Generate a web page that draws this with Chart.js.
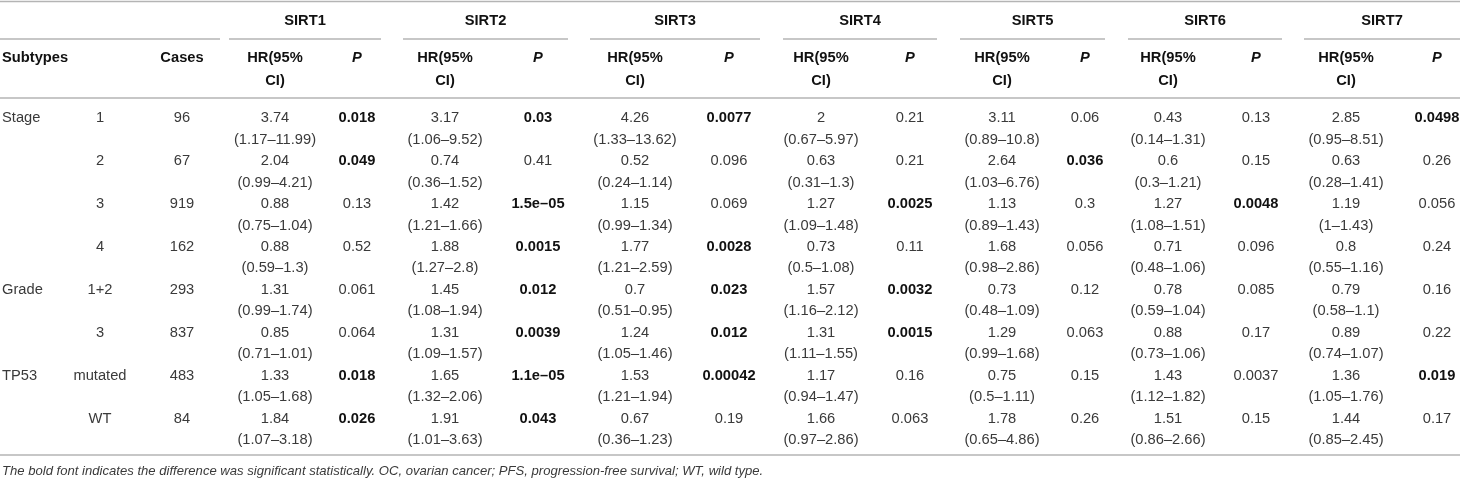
<!DOCTYPE html>
<html>
<head>
<meta charset="utf-8">
<script src="https://cdn.jsdelivr.net/npm/chart.js@4.4.1/dist/chart.umd.min.js"></script>
<style>
  html, body { margin: 0; padding: 0; background: #fff; }
  canvas { display: block; }
</style>
</head>
<body>
<canvas id="tablaSirt" width="1460" height="479"></canvas>
<script>
// ---- datos de la tabla ----
const genes = ['SIRT1', 'SIRT2', 'SIRT3', 'SIRT4', 'SIRT5', 'SIRT6', 'SIRT7'];
const groups = ['Stage', '', '', '', 'Grade', '', 'TP53', ''];
const subtypes = ['1', '2', '3', '4', '1+2', '3', 'mutated', 'WT'];
const cases = [96, 67, 919, 162, 293, 837, 483, 84];

const sirt1HR = [3.74, 2.04, 0.88, 0.88, 1.31, 0.85, 1.33, 1.84];
const sirt1CI = ['1.17–11.99', '0.99–4.21', '0.75–1.04', '0.59–1.3', '0.99–1.74', '0.71–1.01', '1.05–1.68', '1.07–3.18'];
const sirt1P = ['0.018', '0.049', '0.13', '0.52', '0.061', '0.064', '0.018', '0.026'];
const sirt1Sig = [1, 1, 0, 0, 0, 0, 1, 1];

const sirt2HR = [3.17, 0.74, 1.42, 1.88, 1.45, 1.31, 1.65, 1.91];
const sirt2CI = ['1.06–9.52', '0.36–1.52', '1.21–1.66', '1.27–2.8', '1.08–1.94', '1.09–1.57', '1.32–2.06', '1.01–3.63'];
const sirt2P = ['0.03', '0.41', '1.5e–05', '0.0015', '0.012', '0.0039', '1.1e–05', '0.043'];
const sirt2Sig = [1, 0, 1, 1, 1, 1, 1, 1];

const sirt3HR = [4.26, 0.52, 1.15, 1.77, 0.7, 1.24, 1.53, 0.67];
const sirt3CI = ['1.33–13.62', '0.24–1.14', '0.99–1.34', '1.21–2.59', '0.51–0.95', '1.05–1.46', '1.21–1.94', '0.36–1.23'];
const sirt3P = ['0.0077', '0.096', '0.069', '0.0028', '0.023', '0.012', '0.00042', '0.19'];
const sirt3Sig = [1, 0, 0, 1, 1, 1, 1, 0];

const sirt4HR = [2, 0.63, 1.27, 0.73, 1.57, 1.31, 1.17, 1.66];
const sirt4CI = ['0.67–5.97', '0.31–1.3', '1.09–1.48', '0.5–1.08', '1.16–2.12', '1.11–1.55', '0.94–1.47', '0.97–2.86'];
const sirt4P = ['0.21', '0.21', '0.0025', '0.11', '0.0032', '0.0015', '0.16', '0.063'];
const sirt4Sig = [0, 0, 1, 0, 1, 1, 0, 0];

const sirt5HR = [3.11, 2.64, 1.13, 1.68, 0.73, 1.29, 0.75, 1.78];
const sirt5CI = ['0.89–10.8', '1.03–6.76', '0.89–1.43', '0.98–2.86', '0.48–1.09', '0.99–1.68', '0.5–1.11', '0.65–4.86'];
const sirt5P = ['0.06', '0.036', '0.3', '0.056', '0.12', '0.063', '0.15', '0.26'];
const sirt5Sig = [0, 1, 0, 0, 0, 0, 0, 0];

const sirt6HR = [0.43, 0.6, 1.27, 0.71, 0.78, 0.88, 1.43, 1.51];
const sirt6CI = ['0.14–1.31', '0.3–1.21', '1.08–1.51', '0.48–1.06', '0.59–1.04', '0.73–1.06', '1.12–1.82', '0.86–2.66'];
const sirt6P = ['0.13', '0.15', '0.0048', '0.096', '0.085', '0.17', '0.0037', '0.15'];
const sirt6Sig = [0, 0, 1, 0, 0, 0, 0, 0];

const sirt7HR = [2.85, 0.63, 1.19, 0.8, 0.79, 0.89, 1.36, 1.44];
const sirt7CI = ['0.95–8.51', '0.28–1.41', '1–1.43', '0.55–1.16', '0.58–1.1', '0.74–1.07', '1.05–1.76', '0.85–2.45'];
const sirt7P = ['0.0498', '0.26', '0.056', '0.24', '0.16', '0.22', '0.019', '0.17'];
const sirt7Sig = [1, 0, 0, 0, 0, 0, 1, 0];

const footnote = 'The bold font indicates the difference was significant statistically. OC, ovarian cancer; PFS, progression-free survival; WT, wild type.';

const hrCols = [sirt1HR, sirt2HR, sirt3HR, sirt4HR, sirt5HR, sirt6HR, sirt7HR];
const ciCols = [sirt1CI, sirt2CI, sirt3CI, sirt4CI, sirt5CI, sirt6CI, sirt7CI];
const pCols = [sirt1P, sirt2P, sirt3P, sirt4P, sirt5P, sirt6P, sirt7P];
const sigCols = [sirt1Sig, sirt2Sig, sirt3Sig, sirt4Sig, sirt5Sig, sirt6Sig, sirt7Sig];

// ---- maquetación (unidades de las escalas) ----
const W = 1460, H = 479;
const X_LABEL = 2, X_SUB = 100, X_CASES = 182;
const X_HR = [275, 445, 635, 821, 1002, 1168, 1346];
const X_P = [357, 538, 729, 910, 1085, 1256, 1437];
const GROUP_LINES = [[0, 220], [229, 381], [403, 568], [590, 760], [783, 937], [960, 1105], [1128, 1282], [1304, 1460]];
const Y_ROW0 = 117, ROW_H = 42.9, CI_DY = 21.5;
const Y_GENE = 20, Y_HEAD1 = 57, Y_HEAD2 = 80;
const Y_TOP = 1.5, Y_MID = 39, Y_HEAD_LINE = 98, Y_BOTTOM = 455, Y_NOTE = 470;

const FONT = "'Liberation Sans', Arial, Helvetica, sans-serif";
const SIZE = '14.7px ';
const TEXT = '#3a3a3a', BOLD = '#111', RULE = '#b4b4b4';

const rowY = i => Y_ROW0 + i * ROW_H;

function columna(x, textos, opts = {}) {
    return {
        data: textos.map((t, i) => ({ x: x, y: rowY(i) })),
        textos: textos.map(String),
        sub: opts.sub || null,
        sig: opts.sig || null,
        align: opts.align || 'center',
        pointRadius: 0,
        showLine: false
    };
}

const datasets = [
    columna(X_LABEL, groups, { align: 'left' }),
    columna(X_SUB, subtypes),
    columna(X_CASES, cases)
];
genes.forEach((g, k) => {
    datasets.push(columna(X_HR[k], hrCols[k], { sub: ciCols[k].map(c => '(' + c + ')') }));
    datasets.push(columna(X_P[k], pCols[k], { sig: sigCols[k] }));
});

function texto(ctx, s, x, yc, font, color, align) {
    ctx.font = font;
    ctx.fillStyle = color;
    ctx.textAlign = align;
    ctx.textBaseline = 'alphabetic';
    ctx.fillText(s, x, yc + 5.2);
}

const tablaPlugin = {
    id: 'tabla',
    afterDatasetsDraw(chart) {
        const ctx = chart.ctx;
        const sx = chart.scales.x, sy = chart.scales.y;
        const px = v => sx.getPixelForValue(v);
        const py = v => sy.getPixelForValue(v);
        ctx.save();

        // reglas
        ctx.strokeStyle = RULE;
        ctx.lineWidth = 1.5;
        const linea = (x0, x1, y) => {
            ctx.beginPath();
            ctx.moveTo(px(x0), py(y));
            ctx.lineTo(px(x1), py(y));
            ctx.stroke();
        };
        linea(0, W, Y_TOP);
        GROUP_LINES.forEach(([a, b]) => linea(a, b, Y_MID));
        linea(0, W, Y_HEAD_LINE);
        linea(0, W, Y_BOTTOM);

        // cabeceras
        const fb = 'bold ' + SIZE + FONT;
        genes.forEach((g, k) => {
            const [a, b] = GROUP_LINES[k + 1];
            texto(ctx, g, px((a + b) / 2), py(Y_GENE), fb, BOLD, 'center');
            texto(ctx, 'HR(95%', px(X_HR[k]), py(Y_HEAD1), fb, BOLD, 'center');
            texto(ctx, 'CI)', px(X_HR[k]), py(Y_HEAD2), fb, BOLD, 'center');
            texto(ctx, 'P', px(X_P[k]), py(Y_HEAD1), 'italic bold ' + SIZE + FONT, BOLD, 'center');
        });
        texto(ctx, 'Subtypes', px(X_LABEL), py(Y_HEAD1), fb, BOLD, 'left');
        texto(ctx, 'Cases', px(X_CASES), py(Y_HEAD1), fb, BOLD, 'center');

        // celdas desde los puntos del gráfico
        chart.data.datasets.forEach((ds, d) => {
            const meta = chart.getDatasetMeta(d);
            meta.data.forEach((el, i) => {
                const bold = ds.sig && ds.sig[i];
                texto(ctx, ds.textos[i], el.x, el.y,
                    (bold ? 'bold ' : '') + SIZE + FONT, bold ? BOLD : TEXT, ds.align);
                if (ds.sub) {
                    texto(ctx, ds.sub[i], el.x, el.y + CI_DY, SIZE + FONT, TEXT, ds.align);
                }
            });
        });

        // nota al pie
        texto(ctx, footnote, px(X_LABEL), py(Y_NOTE), 'italic 13.1px ' + FONT, TEXT, 'left');
        ctx.restore();
    }
};

new Chart(document.getElementById('tablaSirt').getContext('2d'), {
    type: 'scatter',
    data: { datasets: datasets },
    options: {
        responsive: false,
        animation: false,
        events: [],
        layout: { padding: 0 },
        scales: {
            x: { type: 'linear', min: 0, max: W, display: false },
            y: { type: 'linear', min: 0, max: H, reverse: true, display: false }
        },
        plugins: {
            legend: { display: false },
            tooltip: { enabled: false }
        }
    },
    plugins: [tablaPlugin]
});
</script>
</body>
</html>
